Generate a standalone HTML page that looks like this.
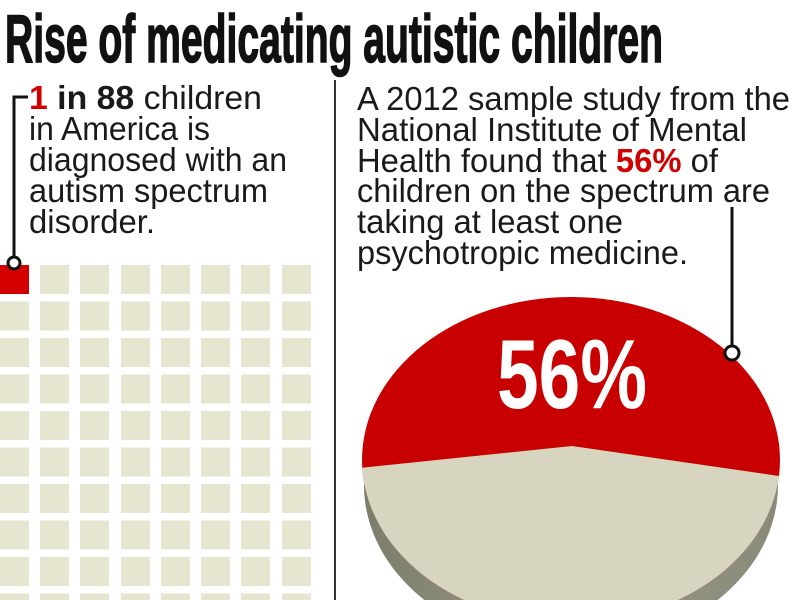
<!DOCTYPE html>
<html><head><meta charset="utf-8"><style>html,body{margin:0;padding:0;background:#fff;overflow:hidden}svg{display:block}</style></head>
<body>
<svg width="800" height="600" viewBox="0 0 800 600" xmlns="http://www.w3.org/2000/svg">
<defs>
<clipPath id="top"><ellipse cx="571" cy="460" rx="209" ry="163"/></clipPath>
<linearGradient id="side" x1="0" x2="1" y1="0" y2="0">
<stop offset="0" stop-color="#7d7d6c"/><stop offset="0.5" stop-color="#9a9a88"/><stop offset="1" stop-color="#8a8a78"/></linearGradient>
</defs>
<text x="5" y="62" font-family="Liberation Sans Narrow, Liberation Sans, sans-serif" font-weight="bold" font-size="68" textLength="658" lengthAdjust="spacingAndGlyphs" fill="#111" stroke="#111" stroke-width="1.6">Rise of medicating autistic children</text>
<g id="grid" fill="#e6e5d0">
</g>
<script>
(function(){var g=document.getElementById('grid');var xs=[0,40,80,121,161,201,241,282];var ns='http://www.w3.org/2000/svg';
for(var r=0;r<10;r++){for(var c=0;c<8;c++){var e=document.createElementNS(ns,'rect');e.setAttribute('x',xs[c]);e.setAttribute('y',265+r*36.5);e.setAttribute('width',29);e.setAttribute('height',29);if(r==0&&c==0)e.setAttribute('fill','#d40000');g.appendChild(e);}}})();
</script>
<g font-family="Liberation Sans, sans-serif" font-size="33" fill="#1a1a1a" lengthAdjust="spacingAndGlyphs">
<text x="29" y="109" textLength="233" lengthAdjust="spacingAndGlyphs"><tspan fill="#d00000" font-weight="bold">1</tspan> <tspan font-weight="bold">in 88</tspan> children</text>
<text x="29" y="140" textLength="181" lengthAdjust="spacingAndGlyphs">in America is</text>
<text x="29" y="171" textLength="258" lengthAdjust="spacingAndGlyphs">diagnosed with an</text>
<text x="29" y="202" textLength="239" lengthAdjust="spacingAndGlyphs">autism spectrum</text>
<text x="29" y="233" textLength="126" lengthAdjust="spacingAndGlyphs">disorder.</text>
<text x="357" y="110" textLength="433" lengthAdjust="spacingAndGlyphs">A 2012 sample study from the</text>
<text x="357" y="141" textLength="390" lengthAdjust="spacingAndGlyphs">National Institute of Mental</text>
<text x="357" y="172" textLength="361" lengthAdjust="spacingAndGlyphs">Health found that <tspan fill="#d00000" font-weight="bold">56%</tspan> of</text>
<text x="357" y="202" textLength="413" lengthAdjust="spacingAndGlyphs">children on the spectrum are</text>
<text x="357" y="233" textLength="266" lengthAdjust="spacingAndGlyphs">taking at least one</text>
<text x="357" y="264" textLength="331" lengthAdjust="spacingAndGlyphs">psychotropic medicine.</text>
</g>
<line x1="335" y1="80" x2="335" y2="600" stroke="#333" stroke-width="2"/>
<path d="M28 97 H14 V257" fill="none" stroke="#111" stroke-width="3"/>
<circle cx="14" cy="263" r="6" fill="#fff" stroke="#111" stroke-width="3"/>
<ellipse cx="571" cy="485" rx="207" ry="163" fill="url(#side)"/>
<ellipse cx="571" cy="460" rx="209" ry="163" fill="#c80000"/>
<polygon clip-path="url(#top)" points="340,470 572,446 800,479 800,640 340,640" fill="#d7d5c0"/>
<text x="572" y="408" text-anchor="middle" font-family="Liberation Sans Narrow, Liberation Sans, sans-serif" font-weight="bold" font-size="98" textLength="150" lengthAdjust="spacingAndGlyphs" fill="#fff">56%</text>
<line x1="732" y1="207" x2="732" y2="347" stroke="#111" stroke-width="3"/>
<circle cx="732" cy="353" r="7" fill="#fff" stroke="#111" stroke-width="3"/>
</svg>
</body></html>
